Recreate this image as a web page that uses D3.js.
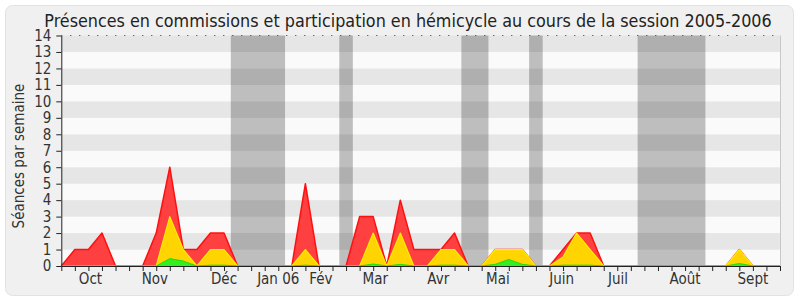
<!DOCTYPE html>
<html><head><meta charset="utf-8">
<script src="https://cdn.jsdelivr.net/npm/d3@7"></script>
<style>
body{margin:0;background:#fff}
svg{display:block}
text{font-family:"DejaVu Sans Condensed","DejaVu Sans",sans-serif;font-stretch:condensed}
</style>
</head><body>
<svg id="c" width="800" height="300"></svg>
<script>
const title = "Présences en commissions et participation en hémicycle au cours de la session 2005-2006";
const yLabel = "Séances par semaine";
const weekIndex = [0,1,2,3,4,5,6,7,8,9,10,11,12,13,14,15,16,17,18,19,20,21,22,23,24,25,26,
  27,28,29,30,31,32,33,34,35,36,37,38,39,40,41,42,43,44,45,46,47,48,49,50,51,52,53];
const commission = [0,1,1,2,0,0,0,2,6,1,1,2,2,0,0,0,0,0,5,0,0,0,3,3,0,4,1,
  1,1,2,0,0,1,1,1,0,0,1,2,2,0,0,0,0,0,0,0,0,0,0,1,0,0,0];
const hemicycle = [0,0,0,0,0,0,0,0,3,1,0,1,1,0,0,0,0,0,1,0,0,0,0,2,0,2,0,
  0,1,1,0,0,1,1,1,0,0,0.55,2,1,0,0,0,0,0,0,0,0,0,0,1,0,0,0];
const interventions = [0,0,0,0,0,0,0,0,0.45,0.3,0,0.05,0.05,0,0,0,0,0,0.05,0,0,0,0,0.12,0,0.1,0,
  0,0.05,0.05,0,0,0.1,0.4,0.1,0,0,0.05,0.05,0.05,0,0,0,0,0,0,0,0,0,0,0.15,0,0,0];
const vacations = [[12.5,16.5],[20.5,21.5],[29.5,31.5],[34.5,35.5],[42.5,47.5]];
const monthLabels = ["Oct","Nov","Déc","Jan 06","Fév","Mar","Avr","Mai","Juin","Juil","Août","Sept"];
const monthWeeks = [2.15,6.9,12,16,19.15,23.15,27.8,32.2,36.9,41.05,46,51];
const yTicks = [0,1,2,3,4,5,6,7,8,9,10,11,12,13,14];

const svg = d3.select("#c");
const x = d3.scaleLinear().domain([0,53]).range([61.3,780]);
const y = d3.scaleLinear().domain([0,14]).range([266,35.5]);

// frame
svg.append("rect").attr("x",5.5).attr("y",5.5).attr("width",788).attr("height",290)
  .attr("rx",7).attr("fill","#f0f0f0").attr("stroke","#e2e2e2");

// stripes
const rows = yTicks.slice(0,-1);
svg.append("g").selectAll("rect").data(rows).join("rect")
  .attr("x",x(0)).attr("width",x(53)-x(0))
  .attr("y",d=>y(d+1)).attr("height",d=>y(d)-y(d+1))
  .attr("fill",d=>d%2?"#e6e6e6":"#fafafa");

// vacations
svg.append("g").selectAll("rect").data(vacations).join("rect")
  .attr("x",d=>x(d[0])).attr("width",d=>x(d[1])-x(d[0]))
  .attr("y",y(14)).attr("height",y(0)-y(14))
  .attr("fill","rgba(0,0,0,0.24)");

// right border & top dotted line
svg.append("line").attr("x1",x(53)+0.5).attr("x2",x(53)+0.5).attr("y1",y(14)).attr("y2",y(0))
  .attr("stroke","#c8c8c8");
svg.append("line").attr("x1",x(0)).attr("x2",x(53)).attr("y1",y(14)).attr("y2",y(14))
  .attr("stroke","#333").attr("stroke-dasharray","1,8");

// areas
function drawArea(vals, fill, stroke, sw){
  const area = d3.area().x((d,i)=>x(weekIndex[i])).y0(y(0)).y1(d=>y(d));
  const line = d3.line().x((d,i)=>x(weekIndex[i])).y(d=>y(d));
  svg.append("path").datum(vals).attr("d",area).attr("fill",fill);
  svg.append("path").datum(vals).attr("d",line).attr("fill","none")
    .attr("stroke",stroke).attr("stroke-width",sw).attr("stroke-linejoin","round");
}
drawArea(commission,"#ff4040","#ff1010",1.5);
drawArea(hemicycle,"#ffd400","#ffee00",1.2);
drawArea(interventions,"#33ee22","#22dd00",1);

// axes
const ya = svg.append("g").attr("transform",`translate(${x(0)},0)`)
  .call(d3.axisLeft(y).tickValues(yTicks).tickSize(5).tickPadding(5).tickSizeOuter(0));
ya.selectAll("text").attr("font-size",15).attr("fill","#333")
  .attr("font-family",null);
ya.select(".domain").attr("stroke","#222");
ya.selectAll(".tick line").attr("stroke","#222");

const xa = svg.append("g").attr("transform",`translate(0,${y(0)})`)
  .call(d3.axisBottom(x).tickValues(weekIndex).tickSize(5).tickFormat("").tickSizeOuter(0));
xa.select(".domain").attr("stroke","#222");
xa.selectAll(".tick line").attr("stroke","#222");

svg.append("g").selectAll("text").data(monthLabels).join("text")
  .attr("x",(d,i)=>x(monthWeeks[i])).attr("y",283.5)
  .attr("text-anchor","middle").attr("font-size",15).attr("fill","#333")
  .text(d=>d);

// y label
svg.append("text").attr("transform","translate(24,156) rotate(-90)")
  .attr("text-anchor","middle").attr("font-size",15).attr("fill","#333").text(yLabel);

// title
const t = svg.append("text").attr("x",408).attr("y",27).attr("text-anchor","middle")
  .attr("font-size",16.5).attr("fill","#222").text(title);
const w = t.node().getComputedTextLength();
if (w > 0) t.attr("font-size", 16.5*728/w);
</script>
</body></html>
